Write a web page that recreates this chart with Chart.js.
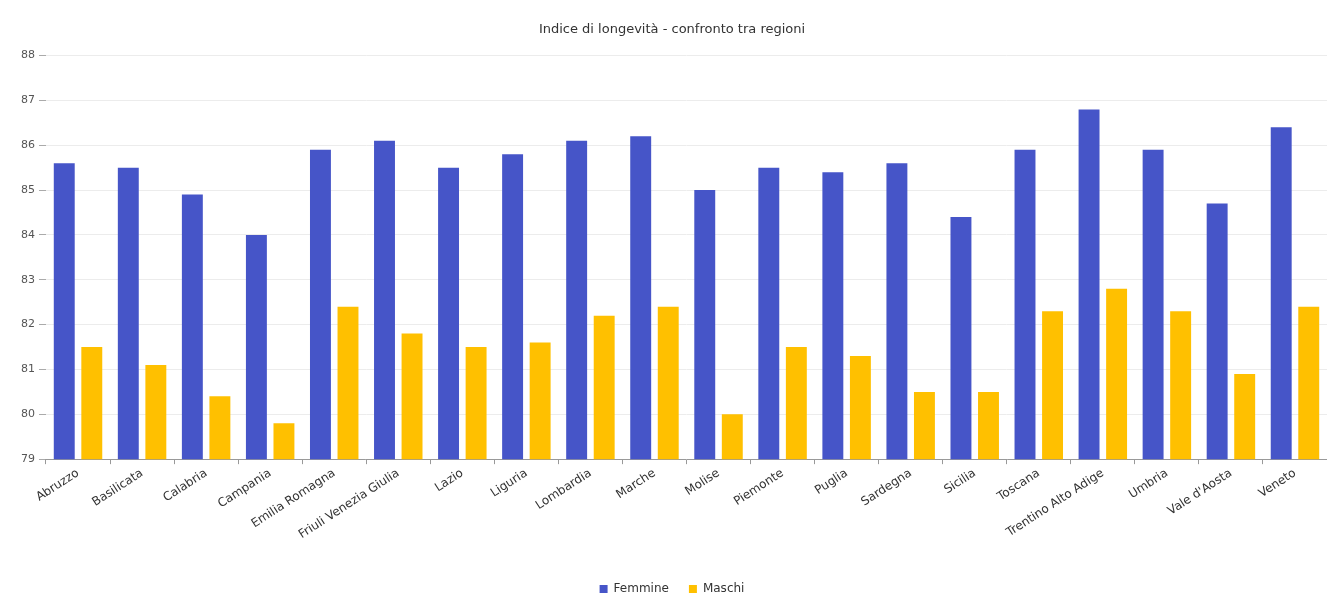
<!DOCTYPE html>
<html>
<head>
<meta charset="utf-8">
<script src="https://cdn.jsdelivr.net/npm/chart.js@4/dist/chart.umd.min.js"></script>
<style>
  html, body { margin: 0; padding: 0; background: #fff; }
  #wrap { position: relative; width: 1327px; height: 596px; }
</style>
</head>
<body>
<div id="wrap"><canvas id="chart"></canvas></div>
<script>
const regioni = [
    'Abruzzo', 'Basilicata', 'Calabria', 'Campania', 'Emilia Romagna',
    'Friuli Venezia Giulia', 'Lazio', 'Liguria', 'Lombardia', 'Marche',
    'Molise', 'Piemonte', 'Puglia', 'Sardegna', 'Sicilia',
    'Toscana', 'Trentino Alto Adige', 'Umbria', "Vale d'Aosta", 'Veneto'
];
const femmine = [85.6, 85.5, 84.9, 84.0, 85.9, 86.1, 85.5, 85.8, 86.1, 86.2,
                 85.0, 85.5, 85.4, 85.6, 84.4, 85.9, 86.8, 85.9, 84.7, 86.4];
const maschi = [81.5, 81.1, 80.4, 79.8, 82.4, 81.8, 81.5, 81.6, 82.2, 82.4,
                80.0, 81.5, 81.3, 80.5, 80.5, 82.3, 82.8, 82.3, 80.9, 82.4];
const yMin = 79;
const yMax = 88;

const FONT = "'DejaVu Sans', sans-serif";

Chart.defaults.font.family = FONT;
Chart.defaults.font.size = 11;
Chart.defaults.color = '#555';

const ctx = document.querySelector('#chart');
new Chart(ctx, {
    type: 'bar',
    data: {
        labels: regioni,
        datasets: [
            {
                label: 'Femmine',
                data: femmine,
                backgroundColor: '#4655c8',
                categoryPercentage: 0.86,
                barPercentage: 0.76
            },
            {
                label: 'Maschi',
                data: maschi,
                backgroundColor: '#ffc000',
                categoryPercentage: 0.86,
                barPercentage: 0.76
            }
        ]
    },
    options: {
        responsive: true,
        maintainAspectRatio: false,
        animation: false,
        // bottom padding negativo: sposta la legenda più in basso
        layout: { padding: { left: 17, right: 0, top: 12, bottom: -9 } },
        scales: {
            x: {
                ticks: {
                    minRotation: 33,
                    maxRotation: 33,
                    color: '#333',
                    font: { size: 12 },
                    padding: 2
                },
                grid: {
                    drawOnChartArea: false,
                    drawTicks: true,
                    tickLength: 5,
                    color: '#999',
                    offset: true
                },
                border: { color: '#999', width: 1 }
            },
            y: {
                min: yMin,
                max: yMax,
                ticks: {
                    stepSize: 1,
                    color: '#555',
                    font: { size: 11 },
                    padding: 4
                },
                grid: {
                    color: '#ececec',
                    tickColor: '#aaa',
                    tickLength: 7
                },
                border: { display: false }
            }
        },
        plugins: {
            title: {
                display: true,
                text: 'Indice di longevità - confronto tra regioni',
                color: '#333',
                font: { size: 13, weight: 'normal' },
                padding: { top: 10, bottom: 18 }
            },
            legend: {
                position: 'bottom',
                // titolo vuoto usato solo come spazio sopra la legenda
                title: { display: true, text: '', font: { size: 10 }, padding: { top: 7, bottom: 0 } },
                labels: {
                    boxWidth: 8,
                    boxHeight: 8,
                    color: '#333',
                    font: { size: 12 },
                    padding: 20
                }
            },
            tooltip: { enabled: false }
        }
    }
});
</script>
</body>
</html>
